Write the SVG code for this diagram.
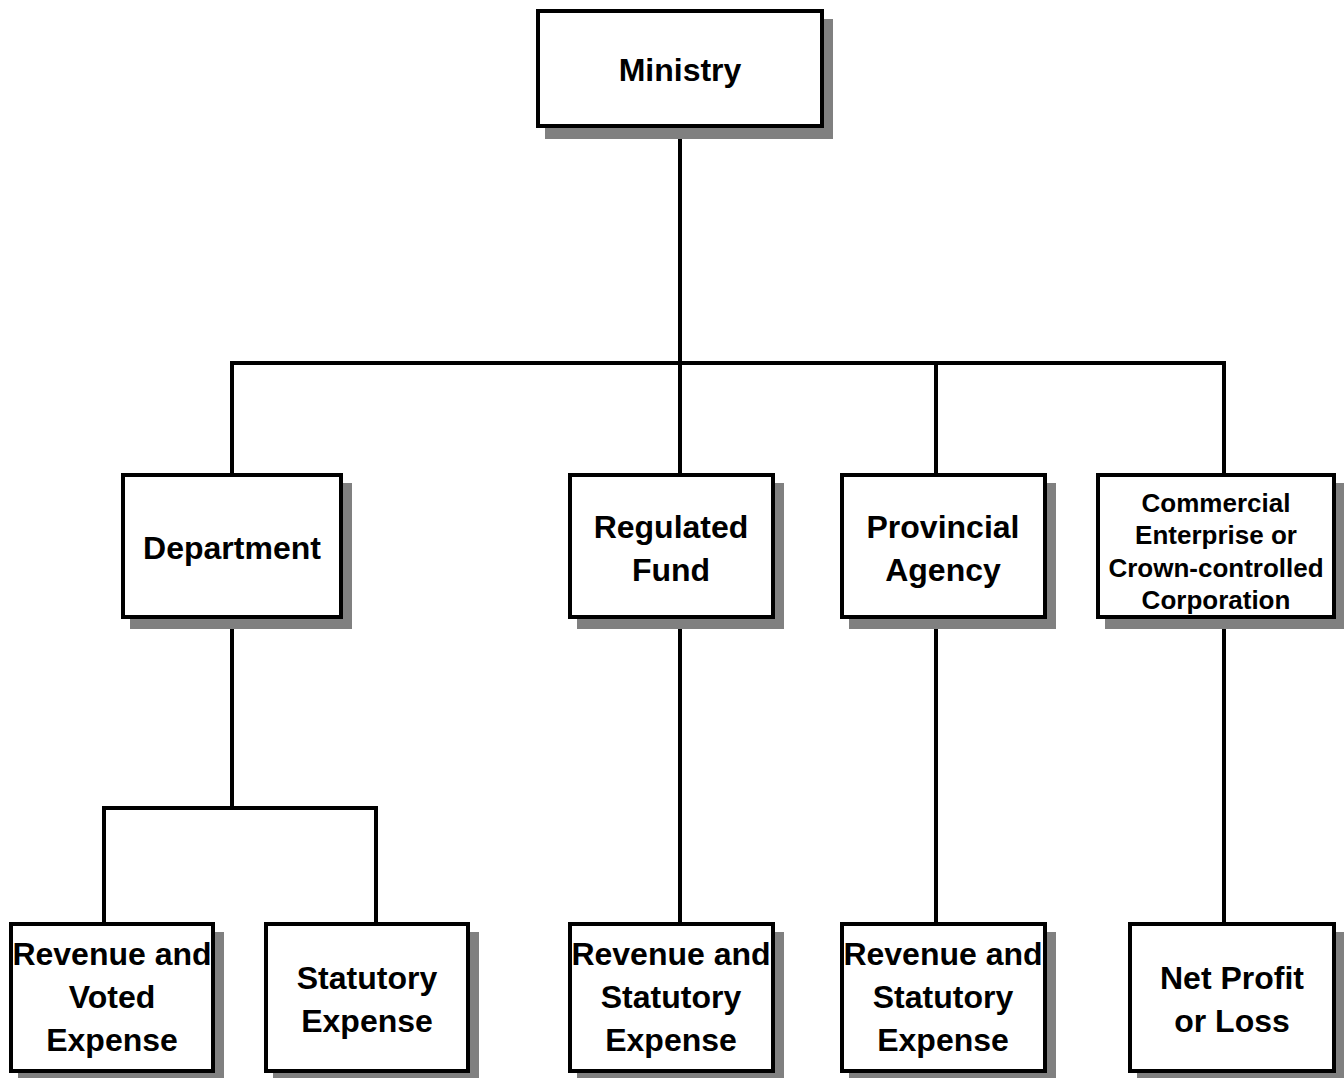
<svg xmlns="http://www.w3.org/2000/svg" width="1344" height="1078" viewBox="0 0 1344 1078">
<style>
.shadow{fill:#808080;stroke:none}
.box{fill:#ffffff;stroke:#000000;stroke-width:4}
.lbl{font-family:"Liberation Sans",Arial,sans-serif;font-weight:bold;font-size:32px;fill:#000000;text-anchor:middle}
.sm{font-size:26px}
.conn line{stroke:#000000;stroke-width:4;stroke-linecap:square}
</style>
<rect width="1344" height="1078" fill="#ffffff"/>
<g class="conn" id="connectors">
<line x1="680" y1="128" x2="680" y2="363"/>
<line x1="232" y1="363" x2="1224" y2="363"/>
<line x1="232" y1="363" x2="232" y2="473"/>
<line x1="680" y1="363" x2="680" y2="473"/>
<line x1="936" y1="363" x2="936" y2="473"/>
<line x1="1224" y1="363" x2="1224" y2="473"/>
<line x1="232" y1="619" x2="232" y2="808"/>
<line x1="104" y1="808" x2="376" y2="808"/>
<line x1="104" y1="808" x2="104" y2="922"/>
<line x1="376" y1="808" x2="376" y2="922"/>
<line x1="680" y1="619" x2="680" y2="922"/>
<line x1="936" y1="619" x2="936" y2="922"/>
<line x1="1224" y1="619" x2="1224" y2="922"/>
</g>
<g id="ministry">
<rect class="shadow" x="545" y="19" width="288" height="120"/>
<rect class="box" x="538" y="11" width="284" height="115"/>
<text class="lbl" x="680" y="81">Ministry</text>
</g>
<g id="department">
<rect class="shadow" x="130" y="483" width="222" height="146"/>
<rect class="box" x="123" y="475" width="218" height="142"/>
<text class="lbl" x="232" y="559">Department</text>
</g>
<g id="regulated-fund">
<rect class="shadow" x="577" y="483" width="207" height="146"/>
<rect class="box" x="570" y="475" width="203" height="142"/>
<text class="lbl" x="671" y="538">Regulated</text>
<text class="lbl" x="671" y="581">Fund</text>
</g>
<g id="provincial-agency">
<rect class="shadow" x="849" y="483" width="207" height="146"/>
<rect class="box" x="842" y="475" width="203" height="142"/>
<text class="lbl" x="943" y="538">Provincial</text>
<text class="lbl" x="943" y="581">Agency</text>
</g>
<g id="commercial-enterprise">
<rect class="shadow" x="1105" y="483" width="240" height="146"/>
<rect class="box" x="1098" y="475" width="236" height="142"/>
<text class="lbl sm" x="1216" y="512">Commercial</text>
<text class="lbl sm" x="1216" y="544">Enterprise or</text>
<text class="lbl sm" x="1216" y="577">Crown-controlled</text>
<text class="lbl sm" x="1216" y="609">Corporation</text>
</g>
<g id="revenue-voted-expense">
<rect class="shadow" x="18" y="932" width="206" height="151"/>
<rect class="box" x="11" y="924" width="202" height="147"/>
<text class="lbl" x="112" y="965">Revenue and</text>
<text class="lbl" x="112" y="1008">Voted</text>
<text class="lbl" x="112" y="1051">Expense</text>
</g>
<g id="statutory-expense">
<rect class="shadow" x="273" y="932" width="206" height="151"/>
<rect class="box" x="266" y="924" width="202" height="147"/>
<text class="lbl" x="367" y="989">Statutory</text>
<text class="lbl" x="367" y="1032">Expense</text>
</g>
<g id="rf-revenue-statutory">
<rect class="shadow" x="577" y="932" width="207" height="151"/>
<rect class="box" x="570" y="924" width="203" height="147"/>
<text class="lbl" x="671" y="965">Revenue and</text>
<text class="lbl" x="671" y="1008">Statutory</text>
<text class="lbl" x="671" y="1051">Expense</text>
</g>
<g id="pa-revenue-statutory">
<rect class="shadow" x="849" y="932" width="207" height="151"/>
<rect class="box" x="842" y="924" width="203" height="147"/>
<text class="lbl" x="943" y="965">Revenue and</text>
<text class="lbl" x="943" y="1008">Statutory</text>
<text class="lbl" x="943" y="1051">Expense</text>
</g>
<g id="net-profit-loss">
<rect class="shadow" x="1137" y="932" width="208" height="151"/>
<rect class="box" x="1130" y="924" width="204" height="147"/>
<text class="lbl" x="1232" y="989">Net Profit</text>
<text class="lbl" x="1232" y="1032">or Loss</text>
</g>
</svg>
